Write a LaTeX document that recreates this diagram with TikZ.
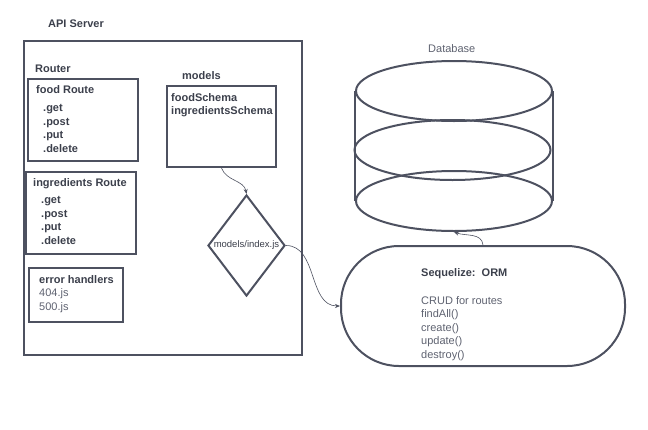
\documentclass[tikz,border=0pt]{standalone}
\usepackage{fontspec}
\setmainfont{Liberation Sans}
\usepackage{xcolor}
\usepackage{tikz}
\usetikzlibrary{shapes.geometric,arrows.meta}
\definecolor{ink}{HTML}{4D5160}
\definecolor{txt}{HTML}{3B3F4B}
\definecolor{softtxt}{HTML}{5E6270}

\begin{document}
\begin{tikzpicture}[x=1pt,y=1pt,
	box/.style={draw=ink,line width=2pt,inner sep=0pt},
	heading/.style={text=txt,font=\fontsize{11}{13.5}\selectfont\bfseries,inner sep=0pt,anchor=north west,align=left},
	softtext/.style={heading,text=softtxt,font=\fontsize{11}{13.5}\selectfont},
	link/.style={draw=ink,line width=0.6pt,-{Stealth[length=5pt,width=4pt]}}]

\useasboundingbox (0,0) rectangle (648,-429);

\node[heading] (serverlbl) at (48,-20) {API Server};
\node[box,minimum width=278pt,minimum height=314pt] (server) at (163,-198) {};

\node[heading] (routerlbl) at (35,-65) {Router};
\node[box,minimum width=110pt,minimum height=82pt] (food) at (83,-120) {};
\node[heading] (foodlbl) at (36,-85) {food Route};
\node[heading] (foodops) at (43,-104.5) {.get\\.post\\.put\\.delete};

\node[box,minimum width=110pt,minimum height=82pt] (ingr) at (81,-213) {};
\node[heading] (ingrlbl) at (33,-178) {ingredients Route};
\node[heading] (ingrops) at (41,-196.5) {.get\\.post\\.put\\.delete};

\node[box,minimum width=94pt,minimum height=54pt] (err) at (76,-295) {};
\node[softtext] (errtxt) at (39,-275) {{\color{txt}\bfseries error handlers}\\404.js\\500.js};

\node[heading] (modelslbl) at (182,-71) {models};
\node[box,minimum width=109pt,minimum height=81pt] (models) at (221.5,-126.5) {};
\node[heading] (schemas) at (171,-93) {foodSchema\\ingredientsSchema};

\node[box,diamond,minimum width=77pt,minimum height=101pt] (index) at (246.5,-245.5) {};
\node[text=txt,font=\fontsize{9.5}{11}\selectfont,inner sep=0pt] (indexlbl) at (index) {models/index.js};

\node[softtext] (dblbl) at (428,-44) {Database};
\node[box,ellipse,minimum width=196pt,minimum height=60pt] (dbtop) at (454,-91) {};
\node[box,ellipse,minimum width=196pt,minimum height=60pt] (dbmid) at (452.5,-150) {};
\node[box,ellipse,minimum width=196pt,minimum height=60pt] (dbbot) at (454,-201) {};
\draw[ink,line width=2pt] (dbtop.west) -- (dbbot.west);
\draw[ink,line width=2pt] (dbtop.east) -- (dbbot.east);

\node[box,rounded corners=58pt,minimum width=284pt,minimum height=120pt] (orm) at (483,-306) {};
\node[softtext] (ormtxt) at (421,-268) {{\color{txt}\bfseries Sequelize:\ \ ORM}\\[14.5pt]CRUD for routes\\findAll()\\create()\\update()\\destroy()};

\draw[link] (models.south) to[out=-70,in=100] (index.north);
\draw[link] (index.east) to[out=0,in=180] (orm.west);
\draw[link] (orm.north) to[out=95,in=-20] (dbbot.south);
\end{tikzpicture}
\end{document}
